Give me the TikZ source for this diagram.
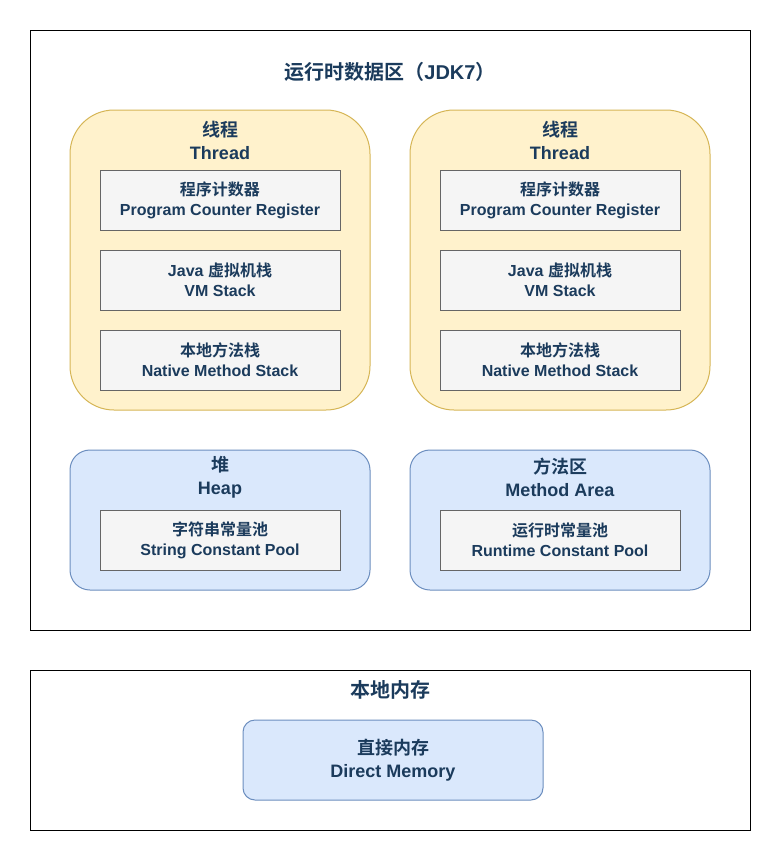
\documentclass[tikz,border=0pt]{standalone}
\usepackage{fontspec}
\setmainfont{Liberation Sans}
\newfontfamily\cjk[BoldFont={Noto Sans CJK SC Bold}]{Noto Sans CJK SC}
\usepackage{tikz}
\usetikzlibrary{positioning}

\definecolor{txtblue}{HTML}{1B3B5C}
\definecolor{threadfill}{HTML}{FFF2CC}
\definecolor{threadline}{HTML}{D6B656}
\definecolor{heapfill}{HTML}{DAE8FC}
\definecolor{heapline}{HTML}{6C8EBF}
\definecolor{cellfill}{HTML}{F5F5F5}
\definecolor{cellline}{HTML}{666666}

\tikzset{
    region/.style={rectangle, draw=black, line width=0.75pt, fill=white, minimum width=540pt, minimum height=#1, inner sep=0pt},
    threadbox/.style={rectangle, draw=threadline, fill=threadfill, line width=0.75pt, rounded corners=33pt, minimum width=225pt, minimum height=225pt, inner sep=0pt},
    heapbox/.style={rectangle, draw=heapline, fill=heapfill, line width=0.75pt, rounded corners=15pt, minimum width=225pt, minimum height=105pt, inner sep=0pt},
    cellbox/.style={rectangle, draw=cellline, fill=cellfill, line width=0.75pt, minimum width=180pt, minimum height=45pt, inner sep=0pt, align=center, text=txtblue, font=\fontsize{12}{15}\selectfont\bfseries},
    header/.style={align=center, text=txtblue, inner sep=0pt, font=\fontsize{13.5}{17.25}\selectfont\bfseries},
    bigtitle/.style={text=txtblue, inner sep=0pt, font=\fontsize{15}{18}\selectfont\bfseries}
}

\begin{document}
\begin{tikzpicture}[x=0.75pt, y=-0.75pt]
        \useasboundingbox (0,0) rectangle (781,861);

        % runtime data area
        \node[region=450pt] (rt) at (390,330) {};
        \node[bigtitle] (rttitle) at (390,72) {{\cjk 运行时数据区（}JDK7{\cjk ）}};

        % threads
        \node[threadbox] (thA) at (220,260) {};
        \node[header] (thAname) at (220,140) {{\cjk 线程}\\Thread};
        \node[cellbox] (pcA) at (220,200) {{\cjk 程序计数器}\\Program Counter Register};
        \node[cellbox] (vmA) at (220,280) {Java {\cjk 虚拟机栈}\\VM Stack};
        \node[cellbox] (nsA) at (220,360) {{\cjk 本地方法栈}\\Native Method Stack};

        \node[threadbox] (thB) at (560,260) {};
        \node[header] (thBname) at (560,140) {{\cjk 线程}\\Thread};
        \node[cellbox] (pcB) at (560,200) {{\cjk 程序计数器}\\Program Counter Register};
        \node[cellbox] (vmB) at (560,280) {Java {\cjk 虚拟机栈}\\VM Stack};
        \node[cellbox] (nsB) at (560,360) {{\cjk 本地方法栈}\\Native Method Stack};

        % heap and method area
        \node[heapbox] (heap) at (220,520) {};
        \node[header] (heapname) at (220,477.5) {{\cjk 堆}\\Heap};
        \node[cellbox] (strpool) at (220,540) {{\cjk 字符串常量池}\\String Constant Pool};

        \node[heapbox] (method) at (560,520) {};
        \node[header] (methodname) at (560,477.5) {{\cjk 方法区}\\Method Area};
        \node[cellbox] (rtpool) at (560,540) {{\cjk 运行时常量池}\\Runtime Constant Pool};

        % native memory
        \node[region=120pt] (native) at (390,750) {};
        \node[bigtitle] (nativetitle) at (390,690) {\cjk 本地内存};
        \node[heapbox, rounded corners=9pt, minimum height=60pt, header] (direct) at (393,760) {{\cjk 直接内存}\\Direct Memory};
    \end{tikzpicture}
\end{document}
